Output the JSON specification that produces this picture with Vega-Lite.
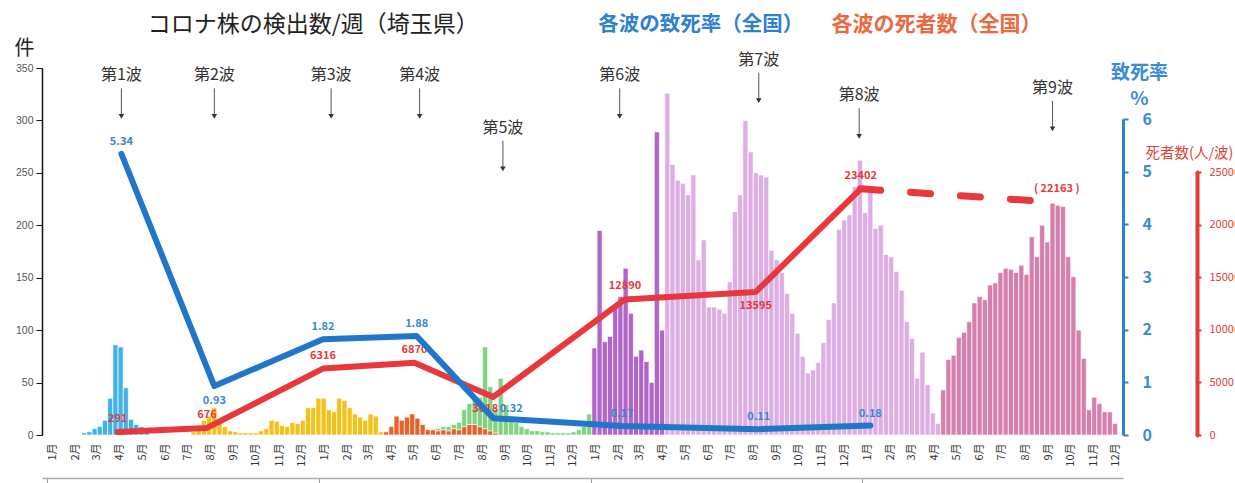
{
 "$schema": "https://vega.github.io/schema/vega-lite/v6.json",
 "width": 1081,
 "height": 367,
 "autosize": {"type": "none"},
 "padding": {"left": 42, "top": 68, "right": 112, "bottom": 48},
 "background": "white",
 "config": {"view": {"stroke": null}, "font": "Noto Sans CJK JP", "axis": {"grid": false}},
 "datasets": {
  "bars": [
   {"week":"2020-02-13","variant":"武漢型","count":2},{"week":"2020-02-20","variant":"武漢型","count":3},{"week":"2020-02-27","variant":"武漢型","count":6},{"week":"2020-03-05","variant":"武漢型","count":8},{"week":"2020-03-12","variant":"武漢型","count":14},{"week":"2020-03-19","variant":"武漢型","count":35},{"week":"2020-03-26","variant":"武漢型","count":86},{"week":"2020-04-02","variant":"武漢型","count":84},{"week":"2020-04-09","variant":"武漢型","count":45},{"week":"2020-04-16","variant":"武漢型","count":15},{"week":"2020-04-23","variant":"武漢型","count":10},{"week":"2020-04-30","variant":"武漢型","count":8},{"week":"2020-05-07","variant":"武漢型","count":3},
   {"week":"2020-07-09","variant":"欧州型","count":3},{"week":"2020-07-16","variant":"欧州型","count":8},{"week":"2020-07-23","variant":"欧州型","count":14},{"week":"2020-07-30","variant":"欧州型","count":18},{"week":"2020-08-06","variant":"欧州型","count":26},{"week":"2020-08-13","variant":"欧州型","count":12},{"week":"2020-08-20","variant":"欧州型","count":8},{"week":"2020-08-27","variant":"欧州型","count":4},{"week":"2020-09-03","variant":"欧州型","count":3},{"week":"2020-09-10","variant":"欧州型","count":2},{"week":"2020-09-17","variant":"欧州型","count":2},{"week":"2020-09-24","variant":"欧州型","count":2},{"week":"2020-10-01","variant":"欧州型","count":2},{"week":"2020-10-08","variant":"欧州型","count":4},{"week":"2020-10-15","variant":"欧州型","count":6},{"week":"2020-10-22","variant":"欧州型","count":14},{"week":"2020-10-29","variant":"欧州型","count":13},{"week":"2020-11-05","variant":"欧州型","count":9},{"week":"2020-11-12","variant":"欧州型","count":8},{"week":"2020-11-19","variant":"欧州型","count":12},{"week":"2020-11-26","variant":"欧州型","count":11},{"week":"2020-12-03","variant":"欧州型","count":14},{"week":"2020-12-10","variant":"欧州型","count":26},{"week":"2020-12-17","variant":"欧州型","count":26},{"week":"2020-12-24","variant":"欧州型","count":35},{"week":"2020-12-31","variant":"欧州型","count":35},
   {"week":"2021-01-07","variant":"欧州型","count":24},{"week":"2021-01-14","variant":"欧州型","count":22},{"week":"2021-01-21","variant":"欧州型","count":35},{"week":"2021-01-28","variant":"欧州型","count":33},{"week":"2021-02-04","variant":"欧州型","count":26},{"week":"2021-02-11","variant":"欧州型","count":20},{"week":"2021-02-18","variant":"欧州型","count":17},{"week":"2021-02-25","variant":"欧州型","count":14},{"week":"2021-03-04","variant":"欧州型","count":20},{"week":"2021-03-11","variant":"欧州型","count":18},{"week":"2021-03-18","variant":"欧州型","count":3},
   {"week":"2021-03-25","variant":"アルファ","count":3},{"week":"2021-04-01","variant":"アルファ","count":8},{"week":"2021-04-08","variant":"アルファ","count":18},{"week":"2021-04-15","variant":"アルファ","count":14},{"week":"2021-04-22","variant":"アルファ","count":17},{"week":"2021-04-29","variant":"アルファ","count":20},{"week":"2021-05-06","variant":"アルファ","count":16},{"week":"2021-05-13","variant":"アルファ","count":10},{"week":"2021-05-20","variant":"アルファ","count":5},{"week":"2021-05-27","variant":"アルファ","count":5},{"week":"2021-06-03","variant":"アルファ","count":4},{"week":"2021-06-10","variant":"アルファ","count":5},{"week":"2021-06-17","variant":"アルファ","count":4},{"week":"2021-06-24","variant":"アルファ","count":6},{"week":"2021-07-01","variant":"アルファ","count":5},{"week":"2021-07-08","variant":"アルファ","count":8},{"week":"2021-07-15","variant":"アルファ","count":10},{"week":"2021-07-22","variant":"アルファ","count":10},{"week":"2021-07-29","variant":"アルファ","count":8},{"week":"2021-08-05","variant":"アルファ","count":6},{"week":"2021-08-12","variant":"アルファ","count":4},{"week":"2021-08-19","variant":"アルファ","count":2},
   {"week":"2021-05-27","variant":"デルタ","count":1},{"week":"2021-06-03","variant":"デルタ","count":2},{"week":"2021-06-10","variant":"デルタ","count":3},{"week":"2021-06-17","variant":"デルタ","count":4},{"week":"2021-06-24","variant":"デルタ","count":4},{"week":"2021-07-01","variant":"デルタ","count":7},{"week":"2021-07-08","variant":"デルタ","count":16},{"week":"2021-07-15","variant":"デルタ","count":20},{"week":"2021-07-22","variant":"デルタ","count":25},{"week":"2021-07-29","variant":"デルタ","count":28},{"week":"2021-08-05","variant":"デルタ","count":78},{"week":"2021-08-12","variant":"デルタ","count":42},{"week":"2021-08-19","variant":"デルタ","count":22},{"week":"2021-08-26","variant":"デルタ","count":54},{"week":"2021-09-02","variant":"デルタ","count":29},{"week":"2021-09-09","variant":"デルタ","count":14},{"week":"2021-09-16","variant":"デルタ","count":12},{"week":"2021-09-23","variant":"デルタ","count":8},{"week":"2021-09-30","variant":"デルタ","count":6},{"week":"2021-10-07","variant":"デルタ","count":4},{"week":"2021-10-14","variant":"デルタ","count":4},{"week":"2021-10-21","variant":"デルタ","count":3},{"week":"2021-10-28","variant":"デルタ","count":3},{"week":"2021-11-04","variant":"デルタ","count":2},{"week":"2021-11-11","variant":"デルタ","count":2},{"week":"2021-11-18","variant":"デルタ","count":2},{"week":"2021-11-25","variant":"デルタ","count":2},{"week":"2021-12-02","variant":"デルタ","count":3},{"week":"2021-12-09","variant":"デルタ","count":5},{"week":"2021-12-16","variant":"デルタ","count":8},{"week":"2021-12-23","variant":"デルタ","count":20},
   {"week":"2021-12-30","variant":"BA.1","count":83},{"week":"2022-01-06","variant":"BA.1","count":195},{"week":"2022-01-13","variant":"BA.1","count":89},{"week":"2022-01-20","variant":"BA.1","count":94},{"week":"2022-01-27","variant":"BA.1","count":122},{"week":"2022-02-03","variant":"BA.1","count":132},{"week":"2022-02-10","variant":"BA.1","count":159},{"week":"2022-02-17","variant":"BA.1","count":116},{"week":"2022-02-24","variant":"BA.1","count":75},{"week":"2022-03-03","variant":"BA.1","count":81},{"week":"2022-03-10","variant":"BA.1","count":70},{"week":"2022-03-17","variant":"BA.1","count":50},{"week":"2022-03-24","variant":"BA.1","count":289},{"week":"2022-03-31","variant":"BA.1","count":100},
   {"week":"2022-04-07","variant":"BA.2/BA.5","count":326},{"week":"2022-04-14","variant":"BA.2/BA.5","count":258},{"week":"2022-04-21","variant":"BA.2/BA.5","count":243},{"week":"2022-04-28","variant":"BA.2/BA.5","count":240},{"week":"2022-05-05","variant":"BA.2/BA.5","count":229},{"week":"2022-05-12","variant":"BA.2/BA.5","count":248},{"week":"2022-05-19","variant":"BA.2/BA.5","count":167},{"week":"2022-05-26","variant":"BA.2/BA.5","count":186},{"week":"2022-06-02","variant":"BA.2/BA.5","count":122},{"week":"2022-06-09","variant":"BA.2/BA.5","count":122},{"week":"2022-06-16","variant":"BA.2/BA.5","count":120},{"week":"2022-06-23","variant":"BA.2/BA.5","count":116},{"week":"2022-06-30","variant":"BA.2/BA.5","count":146},{"week":"2022-07-07","variant":"BA.2/BA.5","count":213},{"week":"2022-07-14","variant":"BA.2/BA.5","count":229},{"week":"2022-07-21","variant":"BA.2/BA.5","count":300},{"week":"2022-07-28","variant":"BA.2/BA.5","count":270},{"week":"2022-08-04","variant":"BA.2/BA.5","count":250},{"week":"2022-08-11","variant":"BA.2/BA.5","count":248},{"week":"2022-08-18","variant":"BA.2/BA.5","count":246},{"week":"2022-08-25","variant":"BA.2/BA.5","count":176},{"week":"2022-09-01","variant":"BA.2/BA.5","count":167},{"week":"2022-09-08","variant":"BA.2/BA.5","count":155},{"week":"2022-09-15","variant":"BA.2/BA.5","count":135},{"week":"2022-09-22","variant":"BA.2/BA.5","count":116},{"week":"2022-09-29","variant":"BA.2/BA.5","count":97},{"week":"2022-10-06","variant":"BA.2/BA.5","count":75},{"week":"2022-10-13","variant":"BA.2/BA.5","count":59},{"week":"2022-10-20","variant":"BA.2/BA.5","count":62},{"week":"2022-10-27","variant":"BA.2/BA.5","count":69},{"week":"2022-11-03","variant":"BA.2/BA.5","count":88},{"week":"2022-11-10","variant":"BA.2/BA.5","count":110},{"week":"2022-11-17","variant":"BA.2/BA.5","count":126},{"week":"2022-11-24","variant":"BA.2/BA.5","count":196},{"week":"2022-12-01","variant":"BA.2/BA.5","count":205},{"week":"2022-12-08","variant":"BA.2/BA.5","count":210},{"week":"2022-12-15","variant":"BA.2/BA.5","count":237},{"week":"2022-12-22","variant":"BA.2/BA.5","count":262},{"week":"2022-12-29","variant":"BA.2/BA.5","count":212},{"week":"2023-01-05","variant":"BA.2/BA.5","count":234},{"week":"2023-01-12","variant":"BA.2/BA.5","count":197},{"week":"2023-01-19","variant":"BA.2/BA.5","count":200},{"week":"2023-01-26","variant":"BA.2/BA.5","count":172},{"week":"2023-02-02","variant":"BA.2/BA.5","count":170},{"week":"2023-02-09","variant":"BA.2/BA.5","count":156},{"week":"2023-02-16","variant":"BA.2/BA.5","count":138},{"week":"2023-02-23","variant":"BA.2/BA.5","count":108},{"week":"2023-03-02","variant":"BA.2/BA.5","count":92},{"week":"2023-03-09","variant":"BA.2/BA.5","count":54},{"week":"2023-03-16","variant":"BA.2/BA.5","count":79},{"week":"2023-03-23","variant":"BA.2/BA.5","count":48},{"week":"2023-03-30","variant":"BA.2/BA.5","count":21},{"week":"2023-04-06","variant":"BA.2/BA.5","count":11},
   {"week":"2023-04-13","variant":"XBB","count":43},{"week":"2023-04-20","variant":"XBB","count":72},{"week":"2023-04-27","variant":"XBB","count":76},{"week":"2023-05-04","variant":"XBB","count":93},{"week":"2023-05-11","variant":"XBB","count":98},{"week":"2023-05-18","variant":"XBB","count":108},{"week":"2023-05-25","variant":"XBB","count":126},{"week":"2023-06-01","variant":"XBB","count":132},{"week":"2023-06-08","variant":"XBB","count":129},{"week":"2023-06-15","variant":"XBB","count":143},{"week":"2023-06-22","variant":"XBB","count":145},{"week":"2023-06-29","variant":"XBB","count":155},{"week":"2023-07-06","variant":"XBB","count":159},{"week":"2023-07-13","variant":"XBB","count":158},{"week":"2023-07-20","variant":"XBB","count":155},{"week":"2023-07-27","variant":"XBB","count":162},{"week":"2023-08-03","variant":"XBB","count":153},{"week":"2023-08-10","variant":"XBB","count":189},{"week":"2023-08-17","variant":"XBB","count":170},{"week":"2023-08-24","variant":"XBB","count":200},{"week":"2023-08-31","variant":"XBB","count":184},{"week":"2023-09-07","variant":"XBB","count":221},{"week":"2023-09-14","variant":"XBB","count":219},{"week":"2023-09-21","variant":"XBB","count":218},{"week":"2023-09-28","variant":"XBB","count":170},{"week":"2023-10-05","variant":"XBB","count":151},{"week":"2023-10-12","variant":"XBB","count":100},{"week":"2023-10-19","variant":"XBB","count":73},{"week":"2023-10-26","variant":"XBB","count":24},{"week":"2023-11-02","variant":"XBB","count":36},{"week":"2023-11-09","variant":"XBB","count":30},{"week":"2023-11-16","variant":"XBB","count":22},{"week":"2023-11-23","variant":"XBB","count":22},{"week":"2023-11-30","variant":"XBB","count":11}
  ],
  "waves": [
   {"wave":"第1波","date":"2020-04-03","level":343},
   {"wave":"第2波","date":"2020-08-06","level":343},
   {"wave":"第3波","date":"2021-01-10","level":343},
   {"wave":"第4波","date":"2021-05-09","level":343},
   {"wave":"第5波","date":"2021-08-29","level":293},
   {"wave":"第6波","date":"2022-02-02","level":343},
   {"wave":"第7波","date":"2022-08-08","level":358},
   {"wave":"第8波","date":"2022-12-21","level":324},
   {"wave":"第9波","date":"2023-09-07","level":331}
  ],
  "headers": [
   {"text":"コロナ株の検出数/週（埼玉県）","date":"2020-12-17","level":391,"kind":"count"},
   {"text":"各波の致死率（全国）","date":"2022-05-22","level":391,"kind":"rate"},
   {"text":"各波の死者数（全国）","date":"2023-04-04","level":391,"kind":"deaths"}
  ],
  "rate": [
   {"wave":1,"date":"2020-04-03","rate":5.34},
   {"wave":2,"date":"2020-08-06","rate":0.93},
   {"wave":3,"date":"2020-12-30","rate":1.82},
   {"wave":4,"date":"2021-05-05","rate":1.88},
   {"wave":5,"date":"2021-08-16","rate":0.32},
   {"wave":6,"date":"2022-02-05","rate":0.17},
   {"wave":7,"date":"2022-08-08","rate":0.11},
   {"wave":8,"date":"2023-01-05","rate":0.18}
  ],
  "deaths": [
   {"wave":1,"date":"2020-03-29","deaths":291},
   {"wave":2,"date":"2020-07-27","deaths":676},
   {"wave":3,"date":"2020-12-30","deaths":6316},
   {"wave":4,"date":"2021-05-02","deaths":6870},
   {"wave":5,"date":"2021-08-16","deaths":3618},
   {"wave":6,"date":"2022-02-09","deaths":12890},
   {"wave":7,"date":"2022-08-04","deaths":13595},
   {"wave":8,"date":"2022-12-23","deaths":23402},
   {"wave":9,"date":"2023-09-02","deaths":22163}
  ]
 },
 "layer": [
  {
   "layer": [
    {
     "data": {"name": "bars"},
     "mark": {"type": "bar", "width": 5, "stroke": "white", "strokeWidth": 0.6},
     "encoding": {
      "x": {"field": "week", "type": "temporal",
            "scale": {"domain": [{"year": 2019, "month": 12, "date": 25}, {"year": 2023, "month": 12, "date": 4}]},
            "axis": {"orient": "bottom", "title": null, "tickCount": {"interval": "month", "step": 1}, "labelExpr": "(month(datum.value)+1) + '月'", "labelAngle": 270, "labelFontSize": 11, "labelColor": "#333", "labelPadding": 8, "domain": false, "ticks": false, "labelOverlap": false, "labelBound": false, "labelFlush": false}},
      "y": {"field": "count", "type": "quantitative",
            "scale": {"domain": [0, 350], "nice": false},
            "axis": {"orient": "left", "values": [0, 50, 100, 150, 200, 250, 300, 350], "labelFontSize": 10.5, "labelColor": "#555", "labelFont": "Liberation Sans", "domainColor": "#111", "domainWidth": 1.5, "tickColor": "#111", "tickSize": 6, "labelPadding": 3, "title": "件", "titleAngle": 0, "titleFontSize": 20, "titleFontWeight": "normal", "titleColor": "#222", "titleX": -18, "titleY": -20, "titleAlign": "center", "titleBaseline": "middle"}},
      "color": {"field": "variant", "type": "nominal", "legend": null,
                "scale": {"domain": ["武漢型", "欧州型", "アルファ", "デルタ", "BA.1", "BA.2/BA.5", "XBB"],
                          "range": ["#3fb2e8", "#f2c21a", "#e8612c", "#82d282", "#b065c8", "#dcaee4", "#d57fae"]}},
      "order": {"field": "variant", "sort": "ascending"}
     }
    },
    {
     "data": {"name": "waves"},
     "mark": {"type": "rule", "color": "#555", "strokeWidth": 1, "yOffset": 13, "y2Offset": 41},
     "encoding": {
      "x": {"field": "date", "type": "temporal"},
      "y": {"field": "level", "type": "quantitative", "scale": {"domain": [0, 350], "nice": false}},
      "y2": {"field": "level"}
     }
    },
    {
     "data": {"name": "waves"},
     "mark": {"type": "point", "shape": "triangle-down", "filled": true, "size": 30, "color": "#333", "opacity": 1, "yOffset": 41},
     "encoding": {
      "x": {"field": "date", "type": "temporal"},
      "y": {"field": "level", "type": "quantitative", "scale": {"domain": [0, 350], "nice": false}}
     }
    },
    {
     "data": {"name": "waves"},
     "mark": {"type": "text", "fontSize": 16, "color": "#333", "baseline": "middle"},
     "encoding": {
      "x": {"field": "date", "type": "temporal"},
      "y": {"field": "level", "type": "quantitative", "scale": {"domain": [0, 350], "nice": false}},
      "text": {"field": "wave"}
     }
    },
    {
     "data": {"name": "headers"},
     "transform": [{"filter": "datum.kind === 'count'"}],
     "mark": {"type": "text", "fontSize": 23, "color": "#222", "baseline": "middle"},
     "encoding": {
      "x": {"field": "date", "type": "temporal"},
      "y": {"field": "level", "type": "quantitative", "scale": {"domain": [0, 350], "nice": false}},
      "text": {"field": "text"}
     }
    },
    {
     "data": {"name": "headers"},
     "transform": [{"filter": "datum.kind === 'rate'"}],
     "mark": {"type": "text", "fontSize": 20.5, "fontWeight": "bold", "color": "#2f80d0", "baseline": "middle"},
     "encoding": {
      "x": {"field": "date", "type": "temporal"},
      "y": {"field": "level", "type": "quantitative", "scale": {"domain": [0, 350], "nice": false}},
      "text": {"field": "text"}
     }
    },
    {
     "data": {"name": "headers"},
     "transform": [{"filter": "datum.kind === 'deaths'"}],
     "mark": {"type": "text", "fontSize": 21, "fontWeight": "bold", "color": "#ea6a3f", "baseline": "middle"},
     "encoding": {
      "x": {"field": "date", "type": "temporal"},
      "y": {"field": "level", "type": "quantitative", "scale": {"domain": [0, 350], "nice": false}},
      "text": {"field": "text"}
     }
    }
   ]
  },
  {
   "data": {"name": "deaths"},
   "layer": [
    {
     "transform": [{"filter": "datum.wave <= 8"}],
     "mark": {"type": "line", "color": "#e8383d", "strokeWidth": 6, "strokeJoin": "round", "strokeCap": "round"},
     "encoding": {
      "x": {"field": "date", "type": "temporal",
            "axis": {"orient": "bottom", "title": null, "values": [{"year": 2019, "month": 12, "date": 25}, {"year": 2020, "month": 12, "date": 25}, {"year": 2021, "month": 12, "date": 25}, {"year": 2022, "month": 12, "date": 25}], "labels": false, "ticks": true, "tickSize": 7, "tickColor": "#999", "domainColor": "#aaa", "domainWidth": 1.5, "offset": 43, "grid": false}},
      "y": {"field": "deaths", "type": "quantitative",
            "scale": {"domain": [0, 25000], "range": [367, 104], "nice": false},
            "axis": {"orient": "right", "offset": 74, "values": [0, 5000, 10000, 15000, 20000, 25000], "format": "d", "labelFontSize": 11, "labelColor": "#e23b3b", "domainColor": "#e23b3b", "domainWidth": 4, "domainCap": "round", "tickColor": "#e23b3b", "tickSize": 4, "tickWidth": 2, "labelPadding": 8, "title": "死者数(人/波)", "titleColor": "#e0453a", "titleFontSize": 14.5, "titleFontWeight": "normal", "titleAngle": 0, "titleX": -52, "titleY": 85, "titleAlign": "left", "titleBaseline": "middle"}}
     }
    },
    {
     "transform": [{"filter": "datum.wave >= 8"}],
     "mark": {"type": "line", "color": "#e8383d", "strokeWidth": 7, "strokeDash": [20, 30], "strokeCap": "round"},
     "encoding": {
      "x": {"field": "date", "type": "temporal"},
      "y": {"field": "deaths", "type": "quantitative"}
     }
    },
    {
     "transform": [{"filter": "datum.wave <= 4 || datum.wave === 6 || datum.wave === 8"}],
     "mark": {"type": "text", "dy": -13, "fontSize": 11, "fontWeight": "bold", "color": "#e8383d"},
     "encoding": {
      "x": {"field": "date", "type": "temporal"},
      "y": {"field": "deaths", "type": "quantitative"},
      "text": {"field": "deaths", "type": "quantitative", "format": "d"}
     }
    },
    {
     "transform": [{"filter": "datum.wave === 5"}],
     "mark": {"type": "text", "dy": 12, "dx": -8, "fontSize": 11, "fontWeight": "bold", "color": "#e8383d"},
     "encoding": {
      "x": {"field": "date", "type": "temporal"},
      "y": {"field": "deaths", "type": "quantitative"},
      "text": {"field": "deaths", "type": "quantitative", "format": "d"}
     }
    },
    {
     "transform": [{"filter": "datum.wave === 7"}],
     "mark": {"type": "text", "dy": 14, "fontSize": 11, "fontWeight": "bold", "color": "#e8383d"},
     "encoding": {
      "x": {"field": "date", "type": "temporal"},
      "y": {"field": "deaths", "type": "quantitative"},
      "text": {"field": "deaths", "type": "quantitative", "format": "d"}
     }
    },
    {
     "transform": [{"filter": "datum.wave === 9"}, {"calculate": "'(   ' + datum.deaths + '   )'", "as": "label"}],
     "mark": {"type": "text", "dy": -13, "dx": 8, "fontSize": 11, "fontWeight": "bold", "color": "#e8383d"},
     "encoding": {
      "x": {"field": "date", "type": "temporal"},
      "y": {"field": "deaths", "type": "quantitative"},
      "text": {"field": "label"}
     }
    }
   ]
  },
  {
   "data": {"name": "rate"},
   "layer": [
    {
     "mark": {"type": "line", "color": "#2077c9", "strokeWidth": 6, "strokeJoin": "round", "strokeCap": "round"},
     "encoding": {
      "x": {"field": "date", "type": "temporal", "axis": null},
      "y": {"field": "rate", "type": "quantitative",
            "scale": {"domain": [0, 6], "range": [367, 51], "nice": false},
            "axis": {"orient": "right", "values": [0, 1, 2, 3, 4, 5, 6], "format": "d", "labelFontSize": 16, "labelFontWeight": "bold", "labelColor": "#3d8ad4", "domainColor": "#2f80d0", "domainWidth": 3, "tickColor": "#2f80d0", "tickSize": 5, "tickWidth": 2, "labelPadding": 14, "title": ["致死率", "%"], "titleColor": "#3d8ad4", "titleFontSize": 19, "titleFontWeight": "bold", "titleAngle": 0, "titleX": 16, "titleY": -5, "titleAlign": "center", "titleBaseline": "top", "titleLineHeight": 26}}
     }
    },
    {
     "transform": [{"filter": "datum.wave === 1 || datum.wave === 3 || datum.wave === 4 || datum.wave >= 6"}],
     "mark": {"type": "text", "dy": -12, "fontSize": 11, "fontWeight": "bold", "color": "#3b86d2"},
     "encoding": {
      "x": {"field": "date", "type": "temporal"},
      "y": {"field": "rate", "type": "quantitative"},
      "text": {"field": "rate", "type": "quantitative", "format": ".2f"}
     }
    },
    {
     "transform": [{"filter": "datum.wave === 2"}],
     "mark": {"type": "text", "dy": 15, "fontSize": 11, "fontWeight": "bold", "color": "#3b86d2"},
     "encoding": {
      "x": {"field": "date", "type": "temporal"},
      "y": {"field": "rate", "type": "quantitative"},
      "text": {"field": "rate", "type": "quantitative", "format": ".2f"}
     }
    },
    {
     "transform": [{"filter": "datum.wave === 5"}],
     "mark": {"type": "text", "dy": -9, "dx": 18, "fontSize": 11, "fontWeight": "bold", "color": "#3b86d2"},
     "encoding": {
      "x": {"field": "date", "type": "temporal"},
      "y": {"field": "rate", "type": "quantitative"},
      "text": {"field": "rate", "type": "quantitative", "format": ".2f"}
     }
    }
   ]
  }
 ],
 "resolve": {"scale": {"y": "independent"}, "axis": {"y": "independent", "x": "independent"}}
}
